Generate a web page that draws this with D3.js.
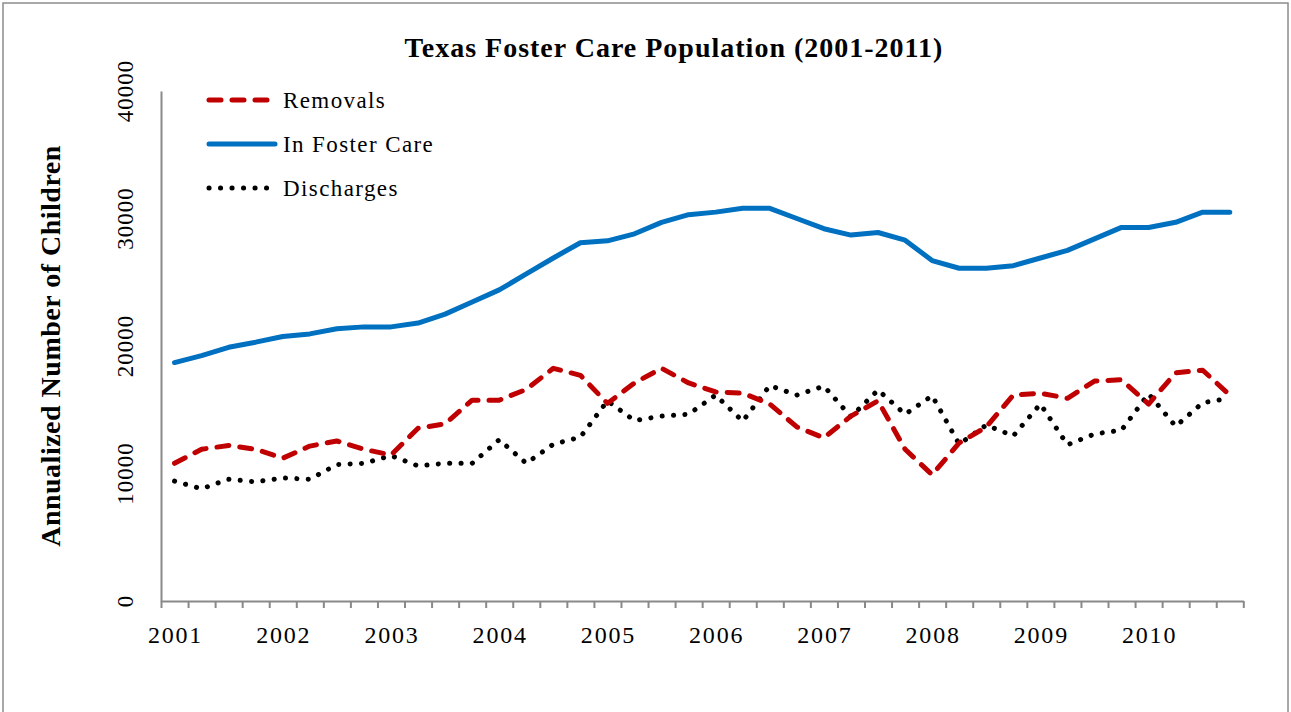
<!DOCTYPE html>
<html><head><meta charset="utf-8">
<script src="https://cdn.jsdelivr.net/npm/d3@7/dist/d3.min.js"></script>
<style>body{margin:0;background:#fff}svg{display:block}</style>
</head><body>
<svg id="c" width="1291" height="712"></svg>
<script>
const years = [2001,2002,2003,2004,2005,2006,2007,2008,2009,2010];
const quarters = years.flatMap(y => ["Q1","Q2","Q3","Q4"].map(q => y + " " + q));
const yTicks = [0,10000,20000,30000,40000];

const removals = [10800,11900,12200,11900,11200,12150,12550,11900,11450,13550,
  13900,15750,15750,16600,18250,17700,15500,17100,18250,17100,
  16400,16300,15450,13650,12800,14500,15700,11900,9900,12400,
  13650,16150,16300,15900,17250,17350,15450,17900,18100,16150];
const inFosterCare = [18700,19250,19900,20300,20750,20950,21350,21500,21500,21800,
  22500,23450,24400,25650,26900,28100,28250,28800,29700,30300,
  30500,30800,30800,30000,29200,28700,28900,28300,26700,26100,
  26100,26300,26900,27500,28400,29300,29300,29700,30500,30500];
const discharges = [9400,8800,9550,9350,9650,9550,10700,10800,11400,10600,
  10800,10800,12650,10800,12300,12850,15700,14150,14500,14650,
  16150,14100,16900,16150,16850,14450,16550,14650,16100,12300,
  13800,12950,15450,12250,13100,13400,16250,13700,15550,15900];

const seriesNames = ["Removals","In Foster Care","Discharges"];
const seriesData = [removals, inFosterCare, discharges];

const styles = [
  {color:"#C00000", width:5, dash:"12,11", cap:"round"},
  {color:"#0070C0", width:5, dash:null, cap:"round"},
  {color:"#000000", width:5, dash:"0.1,11.3", cap:"round"}
];

const FONT = "Liberation Serif, Times New Roman, serif";
const svg = d3.select("#c");
const L = 161, R = 1243.3, T = 91, B = 601;

svg.append("rect").attr("x",3).attr("y",3).attr("width",1285).attr("height",730)
  .attr("fill","none").attr("stroke","#8c8c8c").attr("stroke-width",1.5);

const x = d3.scaleBand().domain(quarters).range([L,R]).padding(0);
const xt = d3.scaleLinear().domain([0,quarters.length]).range([L,R]);
const y = d3.scaleLinear().domain([0,40000]).range([B,T]);

// x axis
const gx = svg.append("g").attr("transform",`translate(0,${B})`)
  .call(d3.axisBottom(xt).tickValues(d3.range(0,quarters.length+1)).tickSize(7).tickSizeOuter(0).tickFormat(""));
gx.selectAll("path,line").attr("stroke","#898989").attr("stroke-width",2);

// y axis
const gy = svg.append("g").attr("transform",`translate(${L},0)`)
  .call(d3.axisLeft(y).tickValues(yTicks).tickSize(0).tickFormat(""));
gy.selectAll("path").attr("stroke","#898989").attr("stroke-width",2);

// x labels
svg.append("g").selectAll("text").data(years).join("text")
  .attr("x",(d,i)=>x(quarters[i*4]) + x.bandwidth()/2 + 1)
  .attr("y",643)
  .attr("text-anchor","middle")
  .attr("font-family",FONT).attr("letter-spacing","1.8px")
  .attr("font-size",24).attr("fill","#000")
  .text(d=>d);

// y labels (rotated)
svg.append("g").selectAll("text").data(yTicks).join("text")
  .attr("transform",d=>`translate(133,${y(d)}) rotate(-90)`)
  .attr("text-anchor","middle")
  .attr("font-family",FONT).attr("letter-spacing","1px")
  .attr("font-size",23).attr("fill","#000")
  .text(d=>d);

// lines
const line = d3.line().x((d,i)=>x(quarters[i]) + x.bandwidth()/2).y(d=>y(d));
const order = [2,0,1];
order.forEach(k=>{
  const s = styles[k];
  const p = svg.append("path").datum(seriesData[k]).attr("d",line)
    .attr("fill","none").attr("stroke",s.color).attr("stroke-width",s.width)
    .attr("stroke-linecap",s.cap).attr("stroke-linejoin","round");
  if (s.dash) p.attr("stroke-dasharray",s.dash);
});

// legend
const lg = svg.append("g");
seriesNames.forEach((n,k)=>{
  const s = styles[k];
  const ly = 100 + k*44;
  const p = lg.append("line").attr("x1",209).attr("x2",275).attr("y1",ly).attr("y2",ly)
    .attr("stroke",s.color).attr("stroke-width",s.width).attr("stroke-linecap",s.cap);
  if (s.dash) p.attr("stroke-dasharray", k===2 ? "0.1,11.4" : "12,11");
  lg.append("text").attr("x",283).attr("y",ly+8)
    .attr("font-family",FONT).attr("letter-spacing","1.4px")
    .attr("font-size",23).attr("fill","#000").text(n);
});

// title
svg.append("text").attr("x",674).attr("y",57).attr("text-anchor","middle")
  .attr("font-family",FONT).attr("letter-spacing","1px")
  .attr("font-weight","bold").attr("font-size",28).attr("fill","#000")
  .text("Texas Foster Care Population (2001-2011)");

// y title
svg.append("text").attr("transform","translate(60,346) rotate(-90)").attr("text-anchor","middle")
  .attr("font-family",FONT).attr("letter-spacing","0.5px")
  .attr("font-weight","bold").attr("font-size",28).attr("fill","#000")
  .text("Annualized Number of Children");
</script>
</body></html>
